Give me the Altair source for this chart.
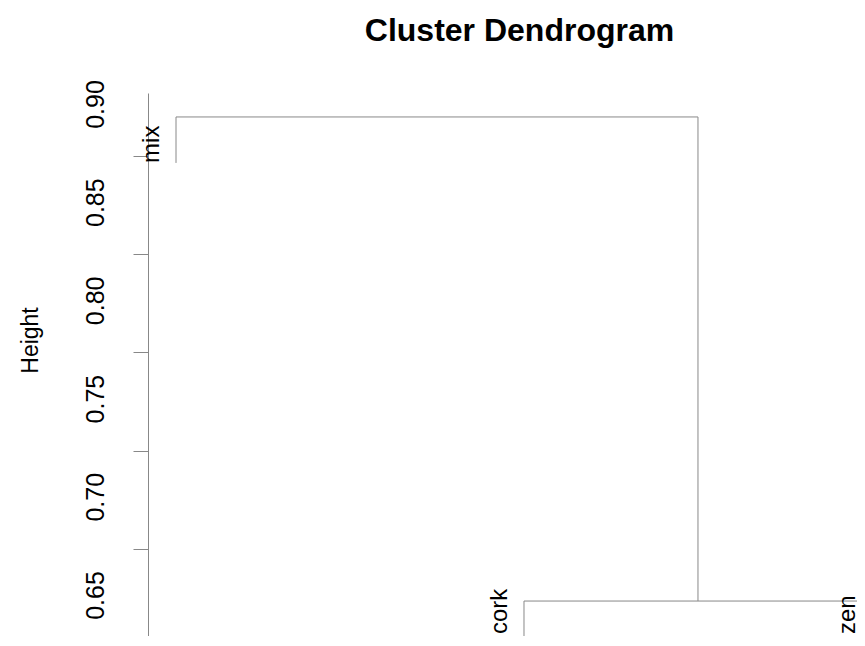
import altair as alt
import pandas as pd

# Leaves and their order positions
leaves = ["mix", "cork", "zen"]
leaf_pos = [1, 2, 3]
# Height at which each leaf branch ends (cork/zen run off the bottom)
leaf_end = [0.870, 0.615, 0.615]
# Height at which each leaf label starts
label_h = [0.870, 0.6301, 0.6301]
# Merges: (left child, right child, height); negative = leaf index, positive = merge index
merge_left = [-2, -1]
merge_right = [-3, 1]
merge_height = [0.6469, 0.8934]

tick_vals = [0.65, 0.70, 0.75, 0.80, 0.85, 0.90]

# build segments of the dendrogram
node_x = {}
node_y = {}
for i, p in enumerate(leaf_pos):
    node_x[-(i + 1)] = p
    node_y[-(i + 1)] = leaf_end[i]
segs = []
for k, (l, r, h) in enumerate(zip(merge_left, merge_right, merge_height)):
    idx = k + 1
    xl, xr = node_x[l], node_x[r]
    segs.append(dict(x=xl, x2=xl, y=node_y[l], y2=h))
    segs.append(dict(x=xr, x2=xr, y=node_y[r], y2=h))
    segs.append(dict(x=xl, x2=xr, y=h, y2=h))
    node_x[idx] = (xl + xr) / 2
    node_y[idx] = h
seg_df = pd.DataFrame(segs)
lab_df = pd.DataFrame({"label": leaves, "x": leaf_pos, "y": label_h})

xs = alt.Scale(domain=[0.9195, 2.957], nice=False, zero=False)
ys = alt.Scale(domain=[0.6291, 0.9056], nice=False, zero=False)

font = "Liberation Sans"

lines = alt.Chart(seg_df).mark_rule(color="#888888", strokeWidth=1, clip=True).encode(
    x=alt.X("x:Q", scale=xs, axis=None),
    x2="x2:Q",
    y=alt.Y(
        "y:Q",
        scale=ys,
        axis=alt.Axis(
            title="Height",
            values=tick_vals,
            format=".2f",
            grid=False,
            labelAngle=270,
            labelAlign="center",
            labelBaseline="alphabetic",
            labelFontSize=25,
            labelFont=font,
            labelColor="#000000",
            labelPadding=30,
            tickSize=15,
            tickOffset=52,
            labelOffset=-52,
            tickColor="#888888",
            domainColor="#888888",
            tickWidth=1,
            domainWidth=1,
            labelOverlap=False,
            labelFlush=False,
            titleFont=font,
            titleFontSize=23,
            titleFontWeight="normal",
            titleColor="#000000",
            titleAngle=270,
            titleAlign="center",
            titleBaseline="alphabetic",
            titleX=-111,
            titleY=247,
        ),
    ),
    y2="y2:Q",
)

labels = alt.Chart(lab_df).mark_text(
    angle=270, align="left", baseline="alphabetic", dy=-17,
    fontSize=24, font=font, color="#000000"
).encode(
    x=alt.X("x:Q", scale=xs),
    y=alt.Y("y:Q", scale=ys),
    text="label:N",
)

chart = (lines + labels).properties(
    width=709,
    height=543,
    padding={"left": 140, "top": 85, "right": 0, "bottom": 0},
    autosize=alt.AutoSizeParams(type="none"),
    title=alt.TitleParams(
        text="Cluster Dendrogram",
        fontSize=32,
        fontWeight="bold",
        font=font,
        color="#000000",
        anchor="middle",
        dx=17,
        offset=7,
        baseline="alphabetic",
    ),
).configure(background="white").configure_view(stroke=None, strokeWidth=0)

chart.save("out.html", embed_options={"renderer": "svg", "actions": False})
